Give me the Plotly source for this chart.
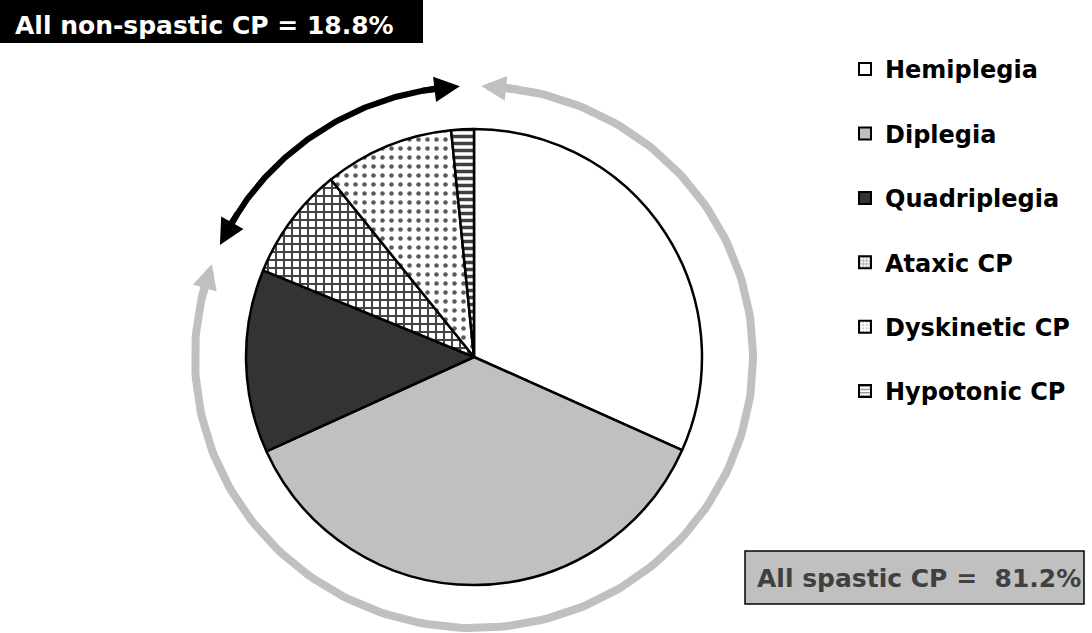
import numpy as np
import plotly.graph_objects as go

# ---- data ----
labels = ["Hemiplegia", "Diplegia", "Quadriplegia", "Ataxic CP", "Dyskinetic CP", "Hypotonic CP"]
values = [31.7, 36.5, 13.0, 8.0, 9.2, 1.6]
fill_colors = ["#ffffff", "#c0c0c0", "#333333", "#ffffff", "#ffffff", "#ffffff"]
pattern_shapes = ["", "", "", "+", ".", "-"]
pattern_fg = ["#000000", "#000000", "#000000", "#444444", "#5a5a5a", "#404040"]
pattern_size = [8, 8, 8, 8, 9, 7]
pattern_solidity = [0.3, 0.3, 0.3, 0.45, 0.2, 0.5]

non_spastic_label = "All non-spastic CP = 18.8%"
spastic_label = "All spastic CP =  81.2%"

# ---- layout geometry (pixels) ----
W, H = 1092, 633
cx, cy, r = 474, 357, 228
RX, RY = 279, 271
FONT = "DejaVu Sans"

fig = go.Figure()

fig.add_trace(go.Pie(
    labels=labels, values=values, sort=False, direction="clockwise", rotation=0,
    textinfo="none", showlegend=False,
    marker=dict(colors=fill_colors, line=dict(color="black", width=2.5),
                pattern=dict(shape=pattern_shapes, fgcolor=pattern_fg,
                             size=pattern_size, solidity=pattern_solidity)),
    domain=dict(x=[(cx - r) / W, (cx + r) / W], y=[1 - (cy + r) / H, 1 - (cy - r) / H]),
))

# legend entries (one per category, separate groups for spacing)
for i, lab in enumerate(labels):
    fig.add_trace(go.Bar(
        x=[None], y=[None], name=lab, legendgroup=lab, hoverinfo="skip",
        marker=dict(color=fill_colors[i], line=dict(color="black", width=2),
                    pattern=dict(shape=pattern_shapes[i], fgcolor=pattern_fg[i],
                                 size=4, solidity=pattern_solidity[i])),
    ))


def ell(tdeg):
    t = np.radians(tdeg)
    return cx + RX * np.sin(t), cy - RY * np.cos(t)


def arc(t0, t1, color, width, asize):
    d = 5.0
    ts = np.linspace(t0 + d, t1 - d, 200)
    xs, ys = ell(ts)
    fig.add_trace(go.Scatter(x=xs, y=ys, mode="lines", showlegend=False, hoverinfo="skip",
                             line=dict(color=color, width=width)))
    for tip, tail in ((t0, t0 + 8), (t1, t1 - 8)):
        x, y = ell(tip)
        ax, ay = ell(tail)
        fig.add_annotation(x=float(x), y=float(y), ax=float(ax), ay=float(ay),
                           xref="x", yref="y", axref="x", ayref="y", text="",
                           showarrow=True, arrowhead=2, arrowsize=asize,
                           arrowwidth=width, arrowcolor=color, standoff=0)


arc(1.5, 290.0, "#c0c0c0", 8, 0.62)
arc(-65.6, -2.9, "#000000", 6, 0.85)

# label boxes
fig.add_shape(type="rect", x0=0, x1=423, y0=0, y1=43, xref="x", yref="y",
              fillcolor="black", line=dict(width=0))
fig.add_annotation(x=13, y=25, xref="x", yref="y", text=non_spastic_label, showarrow=False,
                   xanchor="left", yanchor="middle",
                   font=dict(family=FONT, size=25, color="white", weight="bold"))
fig.add_shape(type="rect", x0=745, x1=1084, y0=551, y1=604, xref="x", yref="y",
              fillcolor="#c0c0c0", line=dict(color="black", width=1.5))
fig.add_annotation(x=755, y=578, xref="x", yref="y", text=spastic_label, showarrow=False,
                   xanchor="left", yanchor="middle",
                   font=dict(family=FONT, size=25, color="#404040", weight="bold"))

fig.update_layout(
    width=W, height=H, margin=dict(l=0, r=0, t=0, b=0),
    paper_bgcolor="white", plot_bgcolor="white",
    xaxis=dict(range=[0, W], visible=False, fixedrange=True, type="linear", domain=[0, 1]),
    yaxis=dict(range=[H, 0], visible=False, fixedrange=True, type="linear", domain=[0, 1]),
    legend=dict(x=845 / W, xanchor="left", y=1 - 47 / H, yanchor="top",
                font=dict(family=FONT, size=24, color="black", weight="bold"),
                tracegroupgap=30.2, bgcolor="rgba(0,0,0,0)", itemclick=False,
                itemdoubleclick=False),
    showlegend=True,
)

fig.write_html("out.html", config={"displayModeBar": False},
               post_script="document.body.style.margin='0px';")
